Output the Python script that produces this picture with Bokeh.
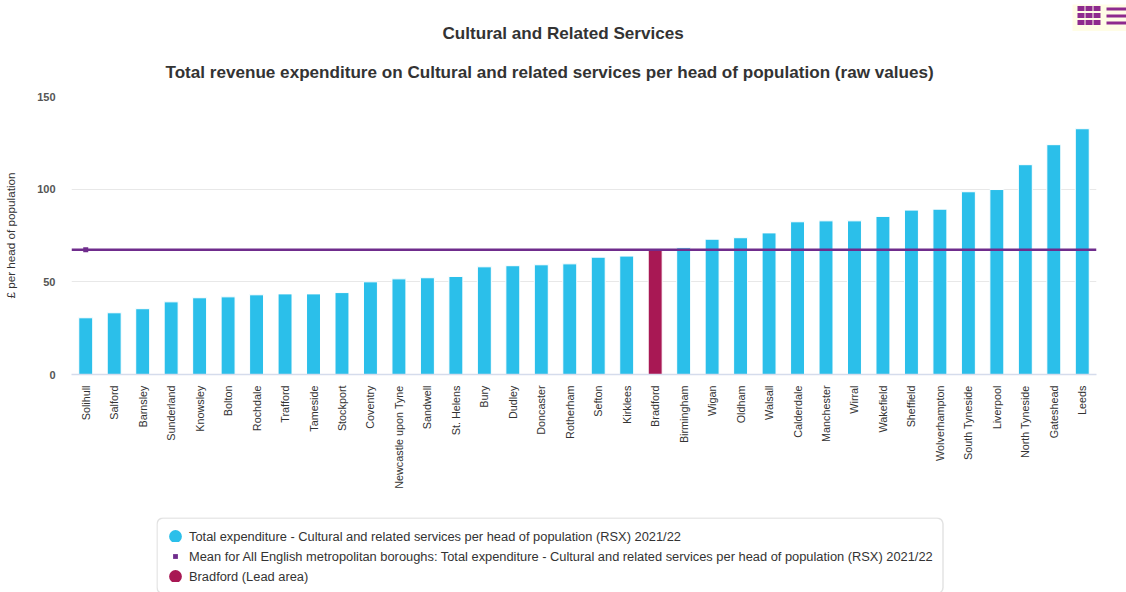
from bokeh.embed import file_html
from bokeh.models import BoxAnnotation, ColumnDataSource, FactorRange, Legend, LegendItem, Range1d, Span, Title
from bokeh.plotting import figure
from bokeh.resources import INLINE
import math

FONT = "Liberation Sans"

areas = ["Solihull", "Salford", "Barnsley", "Sunderland", "Knowsley", "Bolton", "Rochdale",
         "Trafford", "Tameside", "Stockport", "Coventry", "Newcastle upon Tyne", "Sandwell",
         "St. Helens", "Bury", "Dudley", "Doncaster", "Rotherham", "Sefton", "Kirklees",
         "Bradford", "Birmingham", "Wigan", "Oldham", "Walsall", "Calderdale", "Manchester",
         "Wirral", "Wakefield", "Sheffield", "Wolverhampton", "South Tyneside", "Liverpool",
         "North Tyneside", "Gateshead", "Leeds"]
spend = [30.6, 33.3, 35.5, 39.2, 41.4, 41.9, 43.0, 43.5, 43.5, 44.2, 50.0, 51.6, 52.2, 52.9,
         58.1, 58.7, 59.2, 59.7, 63.3, 63.9, 67.3, 68.4, 73.0, 73.8, 76.4, 82.4, 82.9, 82.9,
         85.3, 88.7, 89.2, 98.6, 99.8, 113.2, 124.0, 132.6]
mean_spend = 67.3
lead_area = "Bradford"
y_ticks = [0, 50, 100, 150]
legend_labels = ["Total expenditure - Cultural and related services per head of population (RSX) 2021/22",
                 "Mean for All English metropolitan boroughs: Total expenditure - Cultural and related services per head of population (RSX) 2021/22",
                 "Bradford (Lead area)"]

BLUE = "#2bbfea"
CRIMSON = "#a81854"
PURPLE = "#6f2c8c"
ICON = "#8e2a8e"

colours = [CRIMSON if a == lead_area else BLUE for a in areas]
source = ColumnDataSource(dict(area=areas, spend=spend, colour=colours))

p = figure(width=1126, height=592, output_backend="svg", toolbar_location=None,
           x_range=FactorRange(factors=areas, range_padding=0), y_range=Range1d(0, 150),
           frame_width=1025, frame_height=278,
           min_border_left=71, min_border_right=30, min_border_top=96, min_border_bottom=218,
           background_fill_color="white", border_fill_color="white", outline_line_color=None)

p.vbar(x="area", top="spend", width=0.49, bottom=0, source=source,
       fill_color="colour", line_color="white", line_width=1)

# Mean for the comparator group: a rule across the plot with one marker at its start
p.add_layout(Span(location=mean_spend, dimension="width", line_color=PURPLE, line_width=2.4))
p.scatter(x=areas[:1], y=[mean_spend], marker="square", size=5,
          fill_color=PURPLE, line_color=PURPLE, line_width=0)

# Axes
p.xgrid.visible = False
p.ygrid.grid_line_color = "#e8e8e8"
p.ygrid.ticker = y_ticks
p.yaxis.ticker = y_ticks
p.yaxis.axis_line_color = None
p.yaxis.major_tick_line_color = None
p.yaxis.minor_tick_line_color = None
p.yaxis.major_tick_out = 0
p.yaxis.major_label_standoff = 16
p.yaxis.major_label_text_font = FONT
p.yaxis.major_label_text_font_size = "11px"
p.yaxis.major_label_text_font_style = "bold"
p.yaxis.major_label_text_color = "#555555"
p.yaxis.axis_label = "£ per head of population"
p.yaxis.axis_label_text_font = FONT
p.yaxis.axis_label_text_font_size = "11.7px"
p.yaxis.axis_label_text_font_style = "normal"
p.yaxis.axis_label_text_color = "#333333"
p.yaxis.axis_label_standoff = 17

p.xaxis.axis_line_color = "#d5dcec"
p.xaxis.axis_line_width = 1.5
p.xaxis.major_tick_line_color = None
p.xaxis.minor_tick_line_color = None
p.xaxis.major_tick_out = 0
p.xaxis.major_label_orientation = math.pi / 2
p.xaxis.major_label_standoff = 11
p.xaxis.major_label_text_font = FONT
p.xaxis.major_label_text_font_size = "10.8px"
p.xaxis.major_label_text_color = "#333333"

# Headings
heading_style = dict(text_font=FONT, text_font_size="17.1px", text_font_style="bold",
                     text_color="#333333", align="left")
p.add_layout(Title(text="Total revenue expenditure on Cultural and related services per head of population (raw values)",
                   offset=94, standoff=30, **heading_style), "above")
p.add_layout(Title(text="Cultural and Related Services", offset=371, standoff=6, **heading_style), "above")

# Legend panel under the chart, in its own figure so the box can sit clear of the axis labels
key = figure(width=788, height=75, output_backend="svg", toolbar_location=None,
             x_range=Range1d(0, 788), y_range=Range1d(75, 0),
             min_border=0, x_axis_type=None, y_axis_type=None, outline_line_color=None,
             background_fill_color="white", border_fill_color="white",
             styles={"position": "absolute", "left": "156px", "top": "517px"})
key.grid.visible = False
key.add_layout(BoxAnnotation(left=0.5, right=786.5, top=0.5, bottom=76, border_radius=6,
                             fill_color="white", fill_alpha=1, line_color="#a0a0a0", line_width=1.5,
                             level="underlay"))

# Circles get their diameter from a wide stroke around a small marker
swatch_style = dict(x=[float("nan")], y=[float("nan")], size=5)
swatch_blue = key.scatter(marker="circle", fill_color=BLUE, line_color=BLUE, line_width=8, **swatch_style)
swatch_mean = key.scatter(marker="square", fill_color=PURPLE, line_color=PURPLE, line_width=0, **swatch_style)
swatch_lead = key.scatter(marker="circle", fill_color=CRIMSON, line_color=CRIMSON, line_width=8, **swatch_style)
legend = Legend(items=[LegendItem(label=text, renderers=[r])
                       for text, r in zip(legend_labels, (swatch_blue, swatch_mean, swatch_lead))],
                location="top_left", orientation="vertical", margin=9, padding=0, spacing=0,
                glyph_width=20, glyph_height=12, label_height=20, label_standoff=4, label_text_font=FONT,
                label_text_font_size="12.85px", label_text_color="#333333", label_text_baseline="middle",
                border_line_color=None, background_fill_alpha=0)
key.add_layout(legend, "center")

# Grid and list buttons in the top right corner, in a small figure of their own
grid_left = [1077, 1085, 1093]
grid_top = [5.5, 12.5, 19.5]
list_top = [7, 14, 21]
buttons = figure(width=54, height=27, output_backend="svg", toolbar_location=None,
                 x_range=Range1d(1072, 1126), y_range=Range1d(31, 4),
                 min_border=0, x_axis_type=None, y_axis_type=None, outline_line_color=None,
                 background_fill_color="#fffde6", border_fill_color="#fffde6",
                 styles={"position": "absolute", "left": "1072px", "top": "4px"})
buttons.grid.visible = False
cells_x = [x for x in grid_left for _ in grid_top]
cells_y = [y for _ in grid_left for y in grid_top]
buttons.quad(left=cells_x, right=[x + 7 for x in cells_x], top=cells_y, bottom=[y + 5 for y in cells_y],
             fill_color=ICON, line_color=None)
buttons.quad(left=[1106] * 3, right=[1126] * 3, top=list_top, bottom=[y + 3 for y in list_top],
             fill_color=ICON, line_color=None)

open("out.html", "w").write(file_html((p, key, buttons), INLINE))
